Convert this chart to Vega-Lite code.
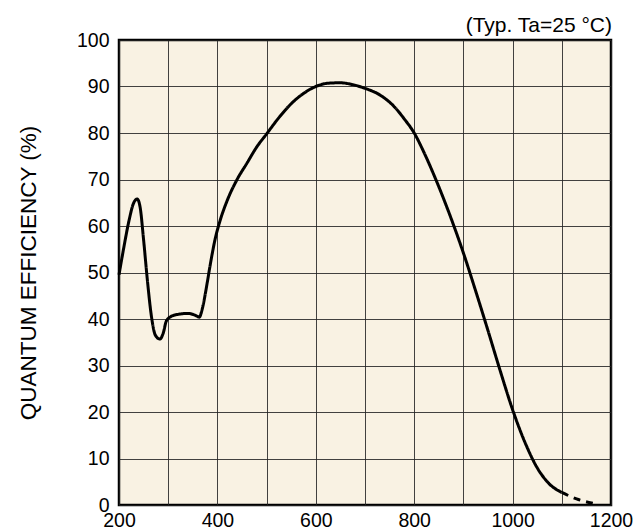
{
  "$schema": "https://vega.github.io/schema/vega-lite/v6.json",
  "width": 492,
  "height": 465,
  "autosize": {"type": "none"},
  "padding": {"left": 119, "top": 40, "right": 25, "bottom": 26},
  "background": "white",
  "title": {
    "text": "(Typ. Ta=25 °C)",
    "anchor": "end",
    "frame": "group",
    "orient": "top",
    "font": "Liberation Sans",
    "fontSize": 21,
    "fontWeight": "normal",
    "color": "black",
    "offset": -6,
    "dx": 1
  },
  "config": {
    "view": {"fill": "#F9F2E3", "stroke": "black", "strokeWidth": 2.5},
    "axis": {
      "labelFont": "Liberation Sans",
      "labelFontSize": 19.5,
      "labelColor": "black",
      "titleFont": "Liberation Sans",
      "titleColor": "black",
      "titleFontWeight": "normal",
      "gridColor": "#222222",
      "gridWidth": 1,
      "gridOpacity": 0.85,
      "ticks": false,
      "domain": false
    }
  },
  "data": {
    "values": [
      {"wl": 200, "qe": 49.5, "part": "solid"},
      {"wl": 210, "qe": 55.5, "part": "solid"},
      {"wl": 220, "qe": 61, "part": "solid"},
      {"wl": 230, "qe": 65, "part": "solid"},
      {"wl": 237, "qe": 65.8, "part": "solid"},
      {"wl": 243, "qe": 64, "part": "solid"},
      {"wl": 250, "qe": 57, "part": "solid"},
      {"wl": 258, "qe": 48, "part": "solid"},
      {"wl": 266, "qe": 40.5, "part": "solid"},
      {"wl": 274, "qe": 36.5, "part": "solid"},
      {"wl": 283, "qe": 35.7, "part": "solid"},
      {"wl": 290, "qe": 37, "part": "solid"},
      {"wl": 296, "qe": 39.5, "part": "solid"},
      {"wl": 305, "qe": 40.5, "part": "solid"},
      {"wl": 320, "qe": 41, "part": "solid"},
      {"wl": 340, "qe": 41.2, "part": "solid"},
      {"wl": 355, "qe": 40.8, "part": "solid"},
      {"wl": 363, "qe": 40.4, "part": "solid"},
      {"wl": 370, "qe": 42.5, "part": "solid"},
      {"wl": 378, "qe": 47, "part": "solid"},
      {"wl": 386, "qe": 52, "part": "solid"},
      {"wl": 395, "qe": 57, "part": "solid"},
      {"wl": 405, "qe": 61, "part": "solid"},
      {"wl": 420, "qe": 65.5, "part": "solid"},
      {"wl": 440, "qe": 70, "part": "solid"},
      {"wl": 460, "qe": 73.5, "part": "solid"},
      {"wl": 480, "qe": 77, "part": "solid"},
      {"wl": 500, "qe": 79.8, "part": "solid"},
      {"wl": 525, "qe": 83.3, "part": "solid"},
      {"wl": 550, "qe": 86.3, "part": "solid"},
      {"wl": 575, "qe": 88.5, "part": "solid"},
      {"wl": 600, "qe": 90, "part": "solid"},
      {"wl": 625, "qe": 90.7, "part": "solid"},
      {"wl": 650, "qe": 90.8, "part": "solid"},
      {"wl": 675, "qe": 90.4, "part": "solid"},
      {"wl": 700, "qe": 89.6, "part": "solid"},
      {"wl": 730, "qe": 88.2, "part": "solid"},
      {"wl": 760, "qe": 85.6, "part": "solid"},
      {"wl": 780, "qe": 83, "part": "solid"},
      {"wl": 800, "qe": 80, "part": "solid"},
      {"wl": 820, "qe": 75.8, "part": "solid"},
      {"wl": 840, "qe": 71, "part": "solid"},
      {"wl": 860, "qe": 65.8, "part": "solid"},
      {"wl": 880, "qe": 60.2, "part": "solid"},
      {"wl": 900, "qe": 54.2, "part": "solid"},
      {"wl": 925, "qe": 46, "part": "solid"},
      {"wl": 950, "qe": 37.5, "part": "solid"},
      {"wl": 975, "qe": 28.8, "part": "solid"},
      {"wl": 1000, "qe": 20.5, "part": "solid"},
      {"wl": 1025, "qe": 13.5, "part": "solid"},
      {"wl": 1050, "qe": 8, "part": "solid"},
      {"wl": 1075, "qe": 4.5, "part": "solid"},
      {"wl": 1100, "qe": 2.7, "part": "solid"},
      {"wl": 1100, "qe": 2.7, "part": "dashed"},
      {"wl": 1130, "qe": 1.3, "part": "dashed"},
      {"wl": 1163, "qe": 0.4, "part": "dashed"}
    ]
  },
  "mark": {"type": "line", "color": "black", "strokeWidth": 3, "interpolate": "monotone"},
  "encoding": {
    "x": {
      "field": "wl",
      "type": "quantitative",
      "scale": {"domain": [200, 1200], "nice": false},
      "axis": {
        "title": null,
        "format": "d",
        "values": [200, 300, 400, 500, 600, 700, 800, 900, 1000, 1100, 1200],
        "labelExpr": "datum.value % 200 == 0 ? datum.label : ''",
        "labelPadding": 6,
        "labelFlush": false,
        "labelOverlap": false
      }
    },
    "y": {
      "field": "qe",
      "type": "quantitative",
      "scale": {"domain": [0, 100], "nice": false},
      "axis": {
        "title": "QUANTUM EFFICIENCY (%)",
        "titleFontSize": 22.5,
        "titlePadding": 36,
        "values": [0, 10, 20, 30, 40, 50, 60, 70, 80, 90, 100],
        "labelPadding": 10,
        "labelOverlap": false,
        "labelFlush": false
      }
    },
    "strokeDash": {
      "field": "part",
      "type": "nominal",
      "scale": {"domain": ["solid", "dashed"], "range": [[1, 0], [7, 6]]},
      "legend": null
    }
  }
}
